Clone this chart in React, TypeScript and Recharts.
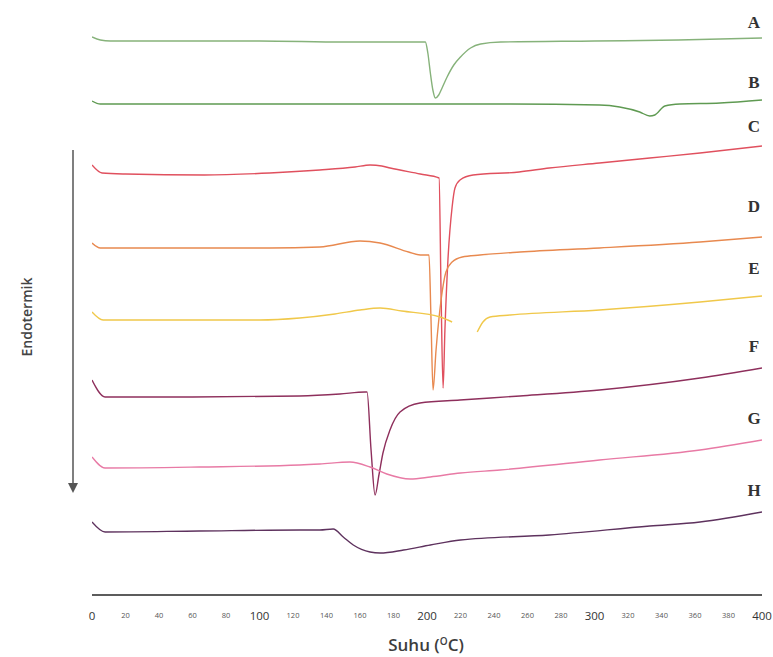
import React from 'react';
import { LineChart, Line, XAxis, YAxis } from 'recharts';

const xTicks = [0, 20, 40, 60, 80, 100, 120, 140, 160, 180, 200, 220, 240, 260, 280, 300, 320, 340, 360, 380, 400];

const tempA = [0, 5, 11, 50, 100, 150, 199, 200.5, 202, 203.5, 205, 207, 209, 212, 216, 220, 226, 232, 244, 300, 350, 400];
const flowA = [556, 553, 552, 552, 552, 551, 551, 540, 520, 503, 495, 498, 505, 516, 528, 536, 545, 549, 551, 552, 553, 555];

const tempB = [0, 5, 50, 100, 150, 200, 250, 303, 315, 327, 333, 336, 342, 351, 375, 400];
const flowB = [492, 489, 489, 489, 489, 489, 489, 488, 486, 481, 477, 478, 487, 489, 490, 493];

const tempC = [0, 6, 20, 67, 106, 136, 157, 166, 173, 178, 196, 207.2, 208.4, 209.6, 210.7, 212.5, 215, 216.7, 219.7, 227.5, 255, 273, 303, 333, 363, 400];
const flowC = [428, 420, 419, 418, 420, 423, 426, 428, 427, 425, 419, 415, 300, 205, 263, 333, 386, 405, 413, 418, 421, 425, 430, 435, 440, 447];

const tempD = [0, 5, 64, 106, 136, 160, 172, 189, 196, 201.2, 202.4, 203.6, 205.4, 208.4, 211.3, 215, 221, 231.6, 255.5, 303, 363, 400];
const flowD = [350, 345, 345, 345, 346, 352, 350, 341, 338, 338, 273, 203, 243, 293, 321, 331, 336, 338, 341, 345, 351, 356];

const tempE = [0, 6.6, 50, 100, 124, 145, 160, 172, 185, 207.8, 215, 222, 230, 233.4, 237.6, 249.6, 303, 363, 400];
const flowE = [281, 273, 273, 273, 275, 279, 283, 285, 282, 276, 271, null, 261, 271, 276, 278, 283, 291, 297];

const tempF = [0, 7.8, 60, 124, 148, 163, 164.2, 166.6, 169, 171.3, 173.7, 177.9, 183.9, 195.8, 219.7, 255.5, 303, 363, 400];
const flowF = [213, 196, 196, 197, 199, 201, 201, 143, 98, 118, 140, 163, 181, 190, 193, 197, 203, 215, 225];

const tempG = [0, 7.8, 64, 124, 136, 154, 166, 176, 190, 202, 220, 243.6, 303, 363, 400];
const flowG = [136, 125, 126, 128, 129, 131, 126, 119, 114, 116, 120, 123, 133, 143, 153];

const tempH = [0, 7.8, 64, 124, 136, 144, 150, 156, 166, 172, 186, 202, 220, 273, 333, 363, 400];
const flowH = [71, 61, 62, 63, 63, 64, 56, 48, 41, 40, 43, 48, 53, 58, 67, 71, 81];

const curveNames = ['A', 'B', 'C', 'D', 'E', 'F', 'G', 'H'];
const curveColors = ['#86b27a', '#5f9a52', '#e0505e', '#e8894f', '#f0c84a', '#8e2f5c', '#e87aa5', '#5e325e'];
const curveLabelY = [22, 82, 126, 206, 268, 346, 418, 490];

const build = (t: number[], v: (number | null)[]) => t.map((x, i) => ({ t: x, v: v[i] }));
const seriesList = [
  build(tempA, flowA),
  build(tempB, flowB),
  build(tempC, flowC),
  build(tempD, flowD),
  build(tempE, flowE),
  build(tempF, flowF),
  build(tempG, flowG),
  build(tempH, flowH),
];

const Tick = (props: any) => {
  const { x, y, payload } = props;
  const major = payload.value % 100 === 0;
  return (
    <text
      x={x}
      y={y + 18}
      textAnchor="middle"
      dominantBaseline="central"
      fontFamily="'Open Sans', sans-serif"
      fontSize={major ? 11.5 : 7.5}
      fill={major ? '#333' : '#555'}
    >
      {payload.value}
    </text>
  );
};

export default function App() {
  return (
    <div style={{ position: 'absolute', left: 0, top: 0, width: 773, height: 657, background: '#fff' }}>
      <LineChart width={773} height={657} margin={{ top: 0, right: 11, left: 92, bottom: 0 }}>
        <XAxis
          dataKey="t"
          type="number"
          domain={[0, 400]}
          ticks={xTicks}
          interval={0}
          tickLine={false}
          tickSize={0}
          axisLine={{ stroke: '#5c5c5c', strokeWidth: 2 }}
          height={62}
          tick={<Tick />}
          allowDataOverflow
        />
        <YAxis hide type="number" domain={[-2, 593]} allowDataOverflow />
        {seriesList.map((d, i) => (
          <Line
            key={curveNames[i]}
            data={d}
            dataKey="v"
            type="monotone"
            stroke={curveColors[i]}
            strokeWidth={1.4}
            dot={false}
            activeDot={false}
            isAnimationActive={false}
          />
        ))}
      </LineChart>
      <svg width={773} height={657} style={{ position: 'absolute', left: 0, top: 0, pointerEvents: 'none' }}>
        {curveNames.map((n, i) => (
          <text
            key={n}
            x={754}
            y={curveLabelY[i]}
            textAnchor="middle"
            dominantBaseline="central"
            fontFamily="'Liberation Serif', 'Times New Roman', serif"
            fontWeight="bold"
            fontSize={17}
            fill="#333"
          >
            {n}
          </text>
        ))}
        <line x1={73} y1={150} x2={73} y2={486} stroke="#555" strokeWidth={1.5} />
        <polygon points="68,483 78,483 73,493" fill="#555" />
        <text
          x={0}
          y={0}
          transform="translate(26,317) rotate(-90)"
          textAnchor="middle"
          dominantBaseline="central"
          fontFamily="'Open Sans', sans-serif"
          fontWeight={600}
          fontSize={14}
          fill="#444"
        >
          Endotermik
        </text>
        <text
          x={426}
          y={651}
          textAnchor="middle"
          fontFamily="'Open Sans', sans-serif"
          fontWeight={600}
          fontSize={17}
          fill="#3d3d3d"
        >
          Suhu (
          <tspan dy={-6} fontSize={10}>O</tspan>
          <tspan dy={6}>C)</tspan>
        </text>
      </svg>
    </div>
  );
}
